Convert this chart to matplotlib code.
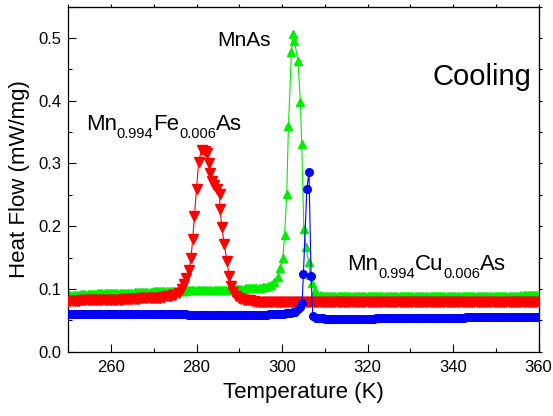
import matplotlib
matplotlib.use("Agg")
import matplotlib.pyplot as plt
from matplotlib.ticker import MultipleLocator, FormatStrFormatter
from matplotlib.transforms import offset_copy

plt.rcParams['font.family'] = ['Liberation Sans', 'DejaVu Sans']

# ---- data: MnAs (green, up triangles) ----
T_mnas_pre = [250, 250.5, 251, 251.5, 252, 252.5, 253, 253.5, 254, 254.5,
              255, 255.5, 256, 256.5, 257, 257.5, 258, 258.5, 259, 259.5,
              260, 260.5, 261, 261.5, 262, 262.5, 263, 263.5, 264, 264.5,
              265, 265.5, 266, 266.5, 267, 267.5, 268, 268.5, 269, 269.5,
              270, 270.5, 271, 271.5, 272, 272.5, 273, 273.5, 274, 274.5,
              275, 275.5, 276, 276.5, 277, 277.5, 278, 278.5, 279, 279.5,
              280, 280.5, 281, 281.5, 282, 282.5, 283, 283.5, 284, 284.5,
              285, 285.5, 286, 286.5, 287, 287.5, 288, 288.5, 289, 289.5,
              290, 290.5, 291, 291.5, 292, 292.5, 293, 293.5, 294, 294.5,
              295, 295.5, 296]
HF_mnas_pre = [0.091, 0.091, 0.091, 0.091, 0.091, 0.091, 0.092, 0.092, 0.092, 0.092,
               0.092, 0.092, 0.092, 0.092, 0.093, 0.093, 0.093, 0.093, 0.093, 0.093,
               0.093, 0.093, 0.094, 0.094, 0.094, 0.094, 0.094, 0.094, 0.094, 0.094,
               0.094, 0.095, 0.095, 0.095, 0.095, 0.095, 0.095, 0.095, 0.095, 0.095,
               0.096, 0.096, 0.096, 0.096, 0.096, 0.096, 0.096, 0.097, 0.097, 0.097,
               0.097, 0.097, 0.097, 0.097, 0.097, 0.097, 0.098, 0.098, 0.098, 0.098,
               0.098, 0.098, 0.098, 0.098, 0.098, 0.099, 0.099, 0.099, 0.099, 0.099,
               0.099, 0.099, 0.099, 0.099, 0.099, 0.100, 0.100, 0.100, 0.100, 0.100,
               0.100, 0.100, 0.100, 0.101, 0.101, 0.101, 0.101, 0.101, 0.102, 0.102,
               0.102, 0.103, 0.103]
T_mnas_peak = [296.8, 297.5, 298.2, 299.0, 299.6, 300.2, 300.6, 301.1, 301.5, 302.2,
               302.5, 302.9, 303.7, 304.3, 304.6, 305.1, 305.6, 306.2, 306.6, 307.1,
               307.6, 308.2, 309, 309.5]
HF_mnas_peak = [0.105, 0.106, 0.111, 0.119, 0.133, 0.150, 0.186, 0.251, 0.359, 0.478,
                0.507, 0.496, 0.464, 0.398, 0.331, 0.195, 0.167, 0.143, 0.122, 0.109,
                0.097, 0.092, 0.090, 0.089]
T_mnas_post = [310, 310.5, 311, 311.5, 312, 312.5, 313, 313.5, 314, 314.5,
               315, 315.5, 316, 316.5, 317, 317.5, 318, 318.5, 319, 319.5,
               320, 320.5, 321, 321.5, 322, 322.5, 323, 323.5, 324, 324.5,
               325, 325.5, 326, 326.5, 327, 327.5, 328, 328.5, 329, 329.5,
               330, 330.5, 331, 331.5, 332, 332.5, 333, 333.5, 334, 334.5,
               335, 335.5, 336, 336.5, 337, 337.5, 338, 338.5, 339, 339.5,
               340, 340.5, 341, 341.5, 342, 342.5, 343, 343.5, 344, 344.5,
               345, 345.5, 346, 346.5, 347, 347.5, 348, 348.5, 349, 349.5,
               350, 350.5, 351, 351.5, 352, 352.5, 353, 353.5, 354, 354.5,
               355, 355.5, 356, 356.5, 357, 357.5, 358, 358.5, 359, 359.5,
               360]
HF_mnas_post = [0.089, 0.089, 0.089, 0.089, 0.089, 0.088, 0.088, 0.088, 0.088, 0.088,
                0.088, 0.088, 0.088, 0.088, 0.088, 0.088, 0.088, 0.088, 0.088, 0.088,
                0.088, 0.088, 0.088, 0.088, 0.088, 0.088, 0.088, 0.088, 0.088, 0.088,
                0.088, 0.088, 0.088, 0.088, 0.088, 0.088, 0.088, 0.088, 0.088, 0.088,
                0.088, 0.088, 0.088, 0.088, 0.088, 0.088, 0.088, 0.088, 0.088, 0.088,
                0.088, 0.088, 0.088, 0.088, 0.088, 0.088, 0.088, 0.088, 0.088, 0.088,
                0.088, 0.088, 0.088, 0.088, 0.088, 0.088, 0.089, 0.089, 0.089, 0.089,
                0.089, 0.089, 0.089, 0.089, 0.089, 0.089, 0.089, 0.089, 0.089, 0.089,
                0.089, 0.089, 0.089, 0.089, 0.089, 0.089, 0.089, 0.089, 0.089, 0.089,
                0.089, 0.089, 0.090, 0.090, 0.090, 0.090, 0.090, 0.090, 0.090, 0.090,
                0.090]

# ---- data: Mn0.994Fe0.006As (red, down triangles) ----
T_fe_pre = [250, 250.5, 251, 251.5, 252, 252.5, 253, 253.5, 254, 254.5,
            255, 255.5, 256, 256.5, 257, 257.5, 258, 258.5, 259, 259.5,
            260, 260.5, 261, 261.5, 262, 262.5, 263, 263.5, 264, 264.5,
            265, 265.5, 266, 266.5, 267, 267.5, 268, 268.5, 269, 269.5,
            270, 270.5, 271, 271.5, 272, 272.5, 273, 273.5, 274, 274.5,
            275]
HF_fe_pre = [0.081, 0.081, 0.081, 0.081, 0.081, 0.081, 0.082, 0.082, 0.082, 0.082,
             0.082, 0.082, 0.082, 0.082, 0.082, 0.082, 0.083, 0.083, 0.083, 0.083,
             0.083, 0.083, 0.083, 0.083, 0.083, 0.083, 0.084, 0.084, 0.084, 0.084,
             0.084, 0.084, 0.084, 0.084, 0.085, 0.085, 0.085, 0.085, 0.085, 0.085,
             0.086, 0.086, 0.086, 0.086, 0.087, 0.087, 0.088, 0.088, 0.089, 0.090,
             0.091]
T_fe_peak = [275.8, 276.5, 277.1, 277.6, 278.2, 278.7, 279.1, 279.5, 280.0, 280.5,
             281.2, 282.0, 282.5, 282.9, 283.2, 283.6, 284.2, 284.7, 285.4, 285.5,
             285.9, 286.5, 287.1, 287.6, 288.1, 288.6, 289.2]
HF_fe_peak = [0.094, 0.100, 0.108, 0.117, 0.130, 0.150, 0.179, 0.216, 0.260, 0.303,
              0.322, 0.320, 0.316, 0.301, 0.285, 0.272, 0.265, 0.259, 0.251, 0.228,
              0.199, 0.171, 0.145, 0.121, 0.104, 0.095, 0.089]
T_fe_post = [290, 290.5, 291, 291.5, 292, 292.5, 293, 293.5, 294, 294.5,
             295, 295.5, 296, 296.5, 297, 297.5, 298, 298.5, 299, 299.5,
             300, 300.5, 301, 301.5, 302, 302.5, 303, 303.5, 304, 304.5,
             305, 305.5, 306, 306.5, 307, 307.5, 308, 308.5, 309, 309.5,
             310, 310.5, 311, 311.5, 312, 312.5, 313, 313.5, 314, 314.5,
             315, 315.5, 316, 316.5, 317, 317.5, 318, 318.5, 319, 319.5,
             320, 320.5, 321, 321.5, 322, 322.5, 323, 323.5, 324, 324.5,
             325, 325.5, 326, 326.5, 327, 327.5, 328, 328.5, 329, 329.5,
             330, 330.5, 331, 331.5, 332, 332.5, 333, 333.5, 334, 334.5,
             335, 335.5, 336, 336.5, 337, 337.5, 338, 338.5, 339, 339.5,
             340, 340.5, 341, 341.5, 342, 342.5, 343, 343.5, 344, 344.5,
             345, 345.5, 346, 346.5, 347, 347.5, 348, 348.5, 349, 349.5,
             350, 350.5, 351, 351.5, 352, 352.5, 353, 353.5, 354, 354.5,
             355, 355.5, 356, 356.5, 357, 357.5, 358, 358.5, 359, 359.5,
             360]
HF_fe_post = [0.085, 0.084, 0.083, 0.083, 0.082, 0.082, 0.081, 0.081, 0.080, 0.080,
              0.080, 0.080, 0.080, 0.080, 0.080, 0.080, 0.080, 0.080, 0.080, 0.080,
              0.079, 0.079, 0.079, 0.079, 0.079, 0.079, 0.079, 0.079, 0.079, 0.079,
              0.079, 0.079, 0.079, 0.079, 0.079, 0.079, 0.079, 0.079, 0.079, 0.079,
              0.079, 0.079, 0.079, 0.079, 0.079, 0.079, 0.079, 0.079, 0.079, 0.079,
              0.079, 0.079, 0.079, 0.079, 0.079, 0.079, 0.079, 0.079, 0.079, 0.079,
              0.079, 0.079, 0.079, 0.079, 0.079, 0.079, 0.079, 0.079, 0.079, 0.079,
              0.079, 0.079, 0.079, 0.079, 0.079, 0.079, 0.079, 0.079, 0.079, 0.079,
              0.079, 0.079, 0.079, 0.079, 0.079, 0.079, 0.079, 0.079, 0.079, 0.079,
              0.079, 0.079, 0.079, 0.079, 0.079, 0.079, 0.079, 0.079, 0.079, 0.079,
              0.079, 0.079, 0.079, 0.079, 0.079, 0.079, 0.079, 0.079, 0.079, 0.079,
              0.079, 0.079, 0.079, 0.079, 0.079, 0.079, 0.079, 0.079, 0.079, 0.079,
              0.079, 0.079, 0.079, 0.079, 0.079, 0.079, 0.079, 0.079, 0.079, 0.079,
              0.079, 0.079, 0.079, 0.079, 0.079, 0.079, 0.079, 0.079, 0.079, 0.079,
              0.079]

# ---- data: Mn0.994Cu0.006As (blue, circles) ----
T_cu_pre = [250, 250.5, 251, 251.5, 252, 252.5, 253, 253.5, 254, 254.5,
            255, 255.5, 256, 256.5, 257, 257.5, 258, 258.5, 259, 259.5,
            260, 260.5, 261, 261.5, 262, 262.5, 263, 263.5, 264, 264.5,
            265, 265.5, 266, 266.5, 267, 267.5, 268, 268.5, 269, 269.5,
            270, 270.5, 271, 271.5, 272, 272.5, 273, 273.5, 274, 274.5,
            275, 275.5, 276, 276.5, 277, 277.5, 278, 278.5, 279, 279.5,
            280, 280.5, 281, 281.5, 282, 282.5, 283, 283.5, 284, 284.5,
            285, 285.5, 286, 286.5, 287, 287.5, 288, 288.5, 289, 289.5,
            290, 290.5, 291, 291.5, 292, 292.5, 293, 293.5, 294, 294.5,
            295, 295.5, 296, 296.5, 297, 297.5, 298, 298.5, 299, 299.5,
            300, 300.5, 301, 301.5, 302, 302.5, 303]
HF_cu_pre = [0.060, 0.060, 0.060, 0.060, 0.060, 0.060, 0.060, 0.060, 0.060, 0.060,
             0.060, 0.060, 0.060, 0.060, 0.060, 0.060, 0.060, 0.060, 0.060, 0.060,
             0.060, 0.060, 0.060, 0.060, 0.060, 0.060, 0.060, 0.060, 0.060, 0.060,
             0.060, 0.060, 0.060, 0.060, 0.060, 0.060, 0.060, 0.060, 0.060, 0.060,
             0.060, 0.060, 0.060, 0.060, 0.060, 0.060, 0.060, 0.060, 0.060, 0.060,
             0.060, 0.060, 0.060, 0.060, 0.060, 0.060, 0.059, 0.059, 0.059, 0.059,
             0.059, 0.059, 0.059, 0.059, 0.059, 0.059, 0.059, 0.059, 0.059, 0.059,
             0.059, 0.059, 0.059, 0.059, 0.059, 0.059, 0.059, 0.059, 0.059, 0.059,
             0.059, 0.059, 0.059, 0.059, 0.059, 0.059, 0.059, 0.059, 0.059, 0.059,
             0.059, 0.059, 0.059, 0.059, 0.060, 0.060, 0.060, 0.060, 0.060, 0.060,
             0.060, 0.060, 0.061, 0.061, 0.062, 0.063, 0.064]
T_cu_peak = [303.8, 304.3, 304.7, 305.0, 305.8, 306.3, 306.8, 307.2,
             308, 308.5, 309, 309.5]
HF_cu_peak = [0.068, 0.072, 0.077, 0.124, 0.259, 0.287, 0.121, 0.057,
              0.054, 0.054, 0.053, 0.053]
T_cu_post = [310, 310.5, 311, 311.5, 312, 312.5, 313, 313.5, 314, 314.5,
             315, 315.5, 316, 316.5, 317, 317.5, 318, 318.5, 319, 319.5,
             320, 320.5, 321, 321.5, 322, 322.5, 323, 323.5, 324, 324.5,
             325, 325.5, 326, 326.5, 327, 327.5, 328, 328.5, 329, 329.5,
             330, 330.5, 331, 331.5, 332, 332.5, 333, 333.5, 334, 334.5,
             335, 335.5, 336, 336.5, 337, 337.5, 338, 338.5, 339, 339.5,
             340, 340.5, 341, 341.5, 342, 342.5, 343, 343.5, 344, 344.5,
             345, 345.5, 346, 346.5, 347, 347.5, 348, 348.5, 349, 349.5,
             350, 350.5, 351, 351.5, 352, 352.5, 353, 353.5, 354, 354.5,
             355, 355.5, 356, 356.5, 357, 357.5, 358, 358.5, 359, 359.5,
             360]
HF_cu_post = [0.052, 0.052, 0.052, 0.052, 0.052, 0.052, 0.052, 0.052, 0.052, 0.052,
              0.052, 0.052, 0.052, 0.052, 0.052, 0.052, 0.052, 0.052, 0.052, 0.052,
              0.052, 0.052, 0.052, 0.052, 0.053, 0.053, 0.053, 0.053, 0.053, 0.053,
              0.053, 0.053, 0.053, 0.053, 0.053, 0.053, 0.053, 0.053, 0.053, 0.053,
              0.053, 0.053, 0.053, 0.053, 0.054, 0.054, 0.054, 0.054, 0.054, 0.054,
              0.054, 0.054, 0.054, 0.054, 0.054, 0.054, 0.054, 0.054, 0.054, 0.054,
              0.054, 0.054, 0.054, 0.054, 0.054, 0.054, 0.055, 0.055, 0.055, 0.055,
              0.055, 0.055, 0.055, 0.055, 0.055, 0.055, 0.055, 0.055, 0.055, 0.055,
              0.055, 0.055, 0.055, 0.055, 0.055, 0.055, 0.056, 0.056, 0.056, 0.056,
              0.056, 0.056, 0.056, 0.056, 0.056, 0.056, 0.056, 0.056, 0.056, 0.056,
              0.056]

T_mnas = T_mnas_pre + T_mnas_peak + T_mnas_post
HF_mnas = HF_mnas_pre + HF_mnas_peak + HF_mnas_post
T_fe = T_fe_pre + T_fe_peak + T_fe_post
HF_fe = HF_fe_pre + HF_fe_peak + HF_fe_post
T_cu = T_cu_pre + T_cu_peak + T_cu_post
HF_cu = HF_cu_pre + HF_cu_peak + HF_cu_post

# ---- figure ----
fig = plt.figure(figsize=(5.53, 4.16), dpi=100)
ax = fig.add_axes([0.1235, 0.1546, 0.9738 - 0.1235, 0.984 - 0.1546])

lw = 0.8
ax.plot(T_mnas, HF_mnas, color='#00ee00', marker='^', ms=6, lw=lw, mec='#00ee00', zorder=2)
ax.plot(T_fe, HF_fe, color='#ff0000', marker='v', ms=6.5, lw=lw, mec='#ff0000', zorder=3)
ax.plot(T_cu, HF_cu, color='#0000ff', marker='o', ms=5.5, lw=lw, mec='#0000ff', zorder=4)

ax.set_xlim(250, 360)
ax.set_ylim(0, 0.55)
ax.xaxis.set_major_locator(MultipleLocator(20))
ax.xaxis.set_minor_locator(MultipleLocator(10))
ax.yaxis.set_major_locator(MultipleLocator(0.1))
ax.yaxis.set_minor_locator(MultipleLocator(0.05))
ax.yaxis.set_major_formatter(FormatStrFormatter('%.1f'))
ax.tick_params(which='both', direction='in', labelsize=12, width=0.8)
ax.tick_params(which='major', length=5.5)
ax.tick_params(which='minor', length=3)
ax.tick_params(axis='x', pad=6)
ax.tick_params(axis='y', pad=5)
for s in ax.spines.values():
    s.set_linewidth(0.9)

# small outward ticks on top/right
axt = ax.secondary_xaxis('top')
axt.xaxis.set_major_locator(MultipleLocator(10))
axt.tick_params(direction='out', length=2, labeltop=False, width=0.8)
axr = ax.secondary_yaxis('right')
axr.yaxis.set_major_locator(MultipleLocator(0.05))
axr.tick_params(direction='out', length=2, labelright=False, width=0.8)

ax.set_xlabel('Temperature (K)', fontsize=16, labelpad=5)
ax.set_ylabel('Heat Flow (mW/mg)', fontsize=16, labelpad=6)


def rich(x, y, parts):
    fig.canvas.draw()
    r = fig.canvas.get_renderer()
    dx = 0.0
    for txt, size, dy in parts:
        tr = offset_copy(ax.transData, fig=fig, x=dx, y=dy, units='points')
        t = ax.text(x, y, txt, fontsize=size, transform=tr, ha='left', va='baseline')
        w = t.get_window_extent(renderer=r).width * 72.0 / fig.dpi
        dx += w


ax.text(284.9, 0.488, 'MnAs', fontsize=15, va='baseline')
ax.text(335.3, 0.425, 'Cooling', fontsize=21, va='baseline')
rich(254.1, 0.353, [('Mn', 16, 0), ('0.994', 10.5, -5.8), ('Fe', 16, 0),
                    ('0.006', 10.5, -5.8), ('As', 16, 0)])
rich(315.3, 0.130, [('Mn', 16, 0), ('0.994', 10.5, -5.8), ('Cu', 16, 0),
                    ('0.006', 10.5, -5.8), ('As', 16, 0)])

fig.savefig('out.png', dpi=100)
